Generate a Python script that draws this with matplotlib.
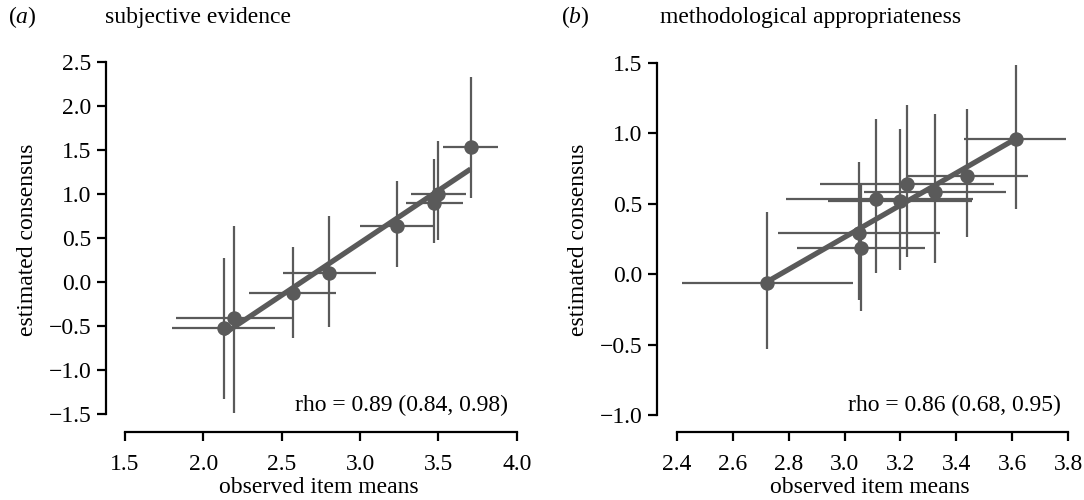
import numpy as np
import matplotlib
matplotlib.use("Agg")
import matplotlib.pyplot as plt

# ---- data: panel (a) subjective evidence ----
xa = [2.132, 2.198, 2.570, 2.802, 3.234, 3.474, 3.499, 3.706]
ya = [-0.525, -0.412, -0.128, 0.106, 0.635, 0.893, 0.995, 1.535]
xa_lo = [1.802, 1.825, 2.293, 2.510, 2.999, 3.293, 3.323, 3.531]
xa_hi = [2.457, 2.570, 2.845, 3.100, 3.467, 3.659, 3.676, 3.878]
ya_lo = [-1.33, -1.49, -0.64, -0.507, 0.167, 0.439, 0.476, 0.95]
ya_hi = [0.269, 0.635, 0.394, 0.752, 1.146, 1.392, 1.60, 2.322]

# ---- data: panel (b) methodological appropriateness ----
xb = [2.724, 3.052, 3.058, 3.111, 3.199, 3.223, 3.322, 3.439, 3.612]
yb = [-0.066, 0.293, 0.182, 0.532, 0.520, 0.638, 0.579, 0.697, 0.962]
xb_lo = [2.418, 2.763, 2.829, 2.790, 2.942, 2.912, 3.069, 3.222, 3.428]
xb_hi = [3.031, 3.341, 3.287, 3.460, 3.456, 3.535, 3.577, 3.657, 3.791]
yb_lo = [-0.532, -0.184, -0.262, 0.009, 0.028, 0.118, 0.076, 0.260, 0.459]
yb_hi = [0.438, 0.797, 0.643, 1.104, 1.033, 1.203, 1.135, 1.175, 1.482]

xticks_a = [1.5, 2.0, 2.5, 3.0, 3.5, 4.0]
yticks_a = [-1.5, -1.0, -0.5, 0.0, 0.5, 1.0, 1.5, 2.0, 2.5]
xticks_b = [2.4, 2.6, 2.8, 3.0, 3.2, 3.4, 3.6, 3.8]
yticks_b = [-1.0, -0.5, 0.0, 0.5, 1.0, 1.5]

titles = ["subjective evidence", "methodological appropriateness"]
panel_labels = ["a", "b"]
rho_texts = ["rho = 0.89 (0.84, 0.98)", "rho = 0.86 (0.68, 0.95)"]

plt.rcParams['font.family'] = ['Liberation Serif', 'DejaVu Serif']
plt.rcParams['mathtext.fontset'] = 'custom'
plt.rcParams['mathtext.it'] = 'Liberation Serif:italic'
plt.rcParams['mathtext.rm'] = 'Liberation Serif'

W, H = 1084, 500
fig = plt.figure(figsize=(W / 100, H / 100), dpi=100)
FS = 17
COL = '#5a5a5a'


def px_axes(l, t, r, b):
    return fig.add_axes([l / W, 1 - b / H, (r - l) / W, (b - t) / H])


def panel(ax, x, y, xlo, xhi, ylo, yhi, xt, yt, xlim, ylim):
    x = np.array(x); y = np.array(y)
    xerr = [x - np.array(xlo), np.array(xhi) - x]
    yerr = [y - np.array(ylo), np.array(yhi) - y]
    ax.errorbar(x, y, xerr=xerr, yerr=yerr, fmt='none', ecolor=COL,
                elinewidth=1.6, capsize=0, zorder=2)
    k, c = np.polyfit(x, y, 1)
    xs = np.array([x.min(), x.max()])
    ax.plot(xs, k * xs + c, color=COL, lw=3.8, solid_capstyle='butt', zorder=3)
    ax.plot(x, y, 'o', color=COL, ms=9.4, mec=COL, zorder=4)
    ax.set_xlim(*xlim)
    ax.set_ylim(*ylim)
    ax.set_xticks(xt)
    ax.set_yticks(yt)
    ax.set_xticklabels([f"{v:.1f}" for v in xt])
    ax.set_yticklabels([f"{v:.1f}".replace('-', '\u2212') for v in yt])
    for s in ['top', 'right']:
        ax.spines[s].set_visible(False)
    ax.spines['left'].set_bounds(yt[0], yt[-1])
    ax.spines['bottom'].set_bounds(xt[0], xt[-1])
    for s in ['left', 'bottom']:
        ax.spines[s].set_linewidth(1.6)
    ax.tick_params(axis='both', length=6.5, width=1.6, labelsize=FS, color='black')
    ax.tick_params(axis='x', pad=9)
    ax.tick_params(axis='y', pad=4)
    ax.set_xlabel("observed item means", fontsize=FS, labelpad=2)
    ax.set_ylabel("estimated consensus", fontsize=FS, labelpad=8)


axa = px_axes(106, 47.6, 532.4, 432)
panel(axa, xa, ya, xa_lo, xa_hi, ya_lo, ya_hi, xticks_a, yticks_a,
      (1.5 - 19 / 156.7, 4.1), (-1.5 - 17.7 / 88.15, 2.5 + 14.1 / 88.15))

axb = px_axes(657, 48.6, 1082.3, 432)
panel(axb, xb, yb, xb_lo, xb_hi, yb_lo, yb_hi, xticks_b, yticks_b,
      (2.4 - 19.7 / 279.8, 3.8 + 14 / 279.8), (-1.0 - 17 / 140.9, 1.5 + 14.1 / 140.9))

# titles and panel labels
for xl, xt_, lab, title in [(8, 105, panel_labels[0], titles[0]),
                            (561, 660, panel_labels[1], titles[1])]:
    fig.text(xl / W, 1 - 17 / H, f"(${lab}$)", fontsize=FS, va='center', ha='left')
    fig.text(xt_ / W, 1 - 17 / H, title, fontsize=FS, va='center', ha='left')

fig.text(508 / W, 1 - 405 / H, rho_texts[0], fontsize=FS, ha='right', va='center')
fig.text(1061 / W, 1 - 405 / H, rho_texts[1], fontsize=FS, ha='right', va='center')

fig.savefig("out.png", dpi=100)
